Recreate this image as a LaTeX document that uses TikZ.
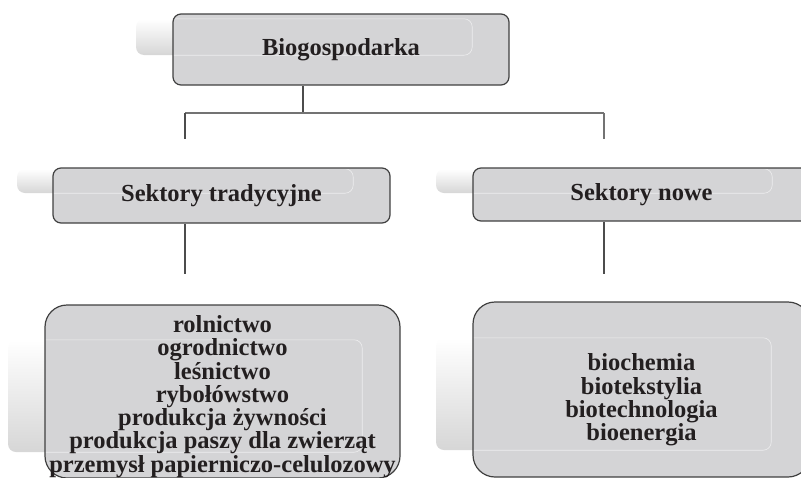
\documentclass[tikz,border=0pt]{standalone}
\usepackage{fontspec}
\setmainfont{Liberation Serif}
\usepackage{xcolor}
\usetikzlibrary{positioning}
\definecolor{boxgray}{RGB}{212,212,214}
\definecolor{inkgray}{RGB}{35,31,32}
\newcommand{\boxlines}[2]{\raisebox{#1}[\height][\depth]{\renewcommand{\arraystretch}{0.97}\begin{tabular}{@{}c@{}}#2\end{tabular}}}
\tikzset{
    glow/.style={rectangle, rounded corners=8pt, shade, top color=white, bottom color=black!16, inner sep=0pt},
    shine/.style={path picture={\draw[white, opacity=0.6, line width=0.6pt, rounded corners=8pt] (#1.south west) rectangle (#1.north east);}},
    topbox/.style={rectangle, rounded corners=8pt, draw=black!75, line width=1.2pt, fill=boxgray, text=inkgray, font=\fontsize{24.5}{21.5}\selectfont\bfseries, align=center, inner sep=0pt},
    listbox/.style={topbox, rounded corners=22pt},
    conn/.style={draw=black!70, line width=1.1pt}
}
\begin{document}
\begin{tikzpicture}[x=1pt, y=-1pt]
\useasboundingbox (0,0) rectangle (801,477);
\clip (0,0) rectangle (801,477);
% shadows behind the boxes
\node (topsh) [glow, minimum width=336pt, minimum height=36pt] at (304,37) {};
\node (tradsh) [glow, minimum width=336pt, minimum height=24pt] at (185,181) {};
\node (nowesh) [glow, minimum width=336pt, minimum height=24pt] at (604,181) {};
\node (lsh) [glow, minimum width=354pt, minimum height=112pt] at (185,396) {};
\node (rsh) [glow, minimum width=335pt, minimum height=112pt] at (603.5,394) {};
% boxes
\node (top) [topbox, shine=topsh, minimum width=336pt, minimum height=71pt] at (341,49.5) {Biogospodarka};
\node (trad) [topbox, shine=tradsh, minimum width=337pt, minimum height=55pt] at (221.5,195.5) {Sektory tradycyjne};
\node (nowe) [topbox, shine=nowesh, minimum width=337pt, minimum height=53pt] at (641.5,194.5) {Sektory nowe};
\node (trlist) [listbox, shine=lsh, minimum width=355pt, minimum height=173pt] at (222.5,391.5) {\boxlines{-5.5pt}{rolnictwo\\ ogrodnictwo\\ leśnictwo\\ rybołówstwo\\ produkcja żywności\\ produkcja paszy dla zwierząt\\ przemysł papierniczo-celulozowy}};
\node (nwlist) [listbox, shine=rsh, minimum width=337pt, minimum height=175pt] at (641.5,389.5) {\boxlines{-11pt}{biochemia\\ biotekstylia\\ biotechnologia\\ bioenergia}};
% connectors
\coordinate (fork) at (303,113);
\draw[conn] (top.south -| fork) -- (fork);
\draw[conn, draw=black!55] (fork -| tradsh) -- (fork -| nowesh);
\draw[conn] (fork -| tradsh) -- ++(0,26);
\draw[conn, draw=black!55] (fork -| nowesh) -- ++(0,26);
\draw[conn] (trad.south -| tradsh) -- ++(0,50);
\draw[conn] (nowe.south -| nowesh) -- ++(0,52);
\end{tikzpicture}
\end{document}
